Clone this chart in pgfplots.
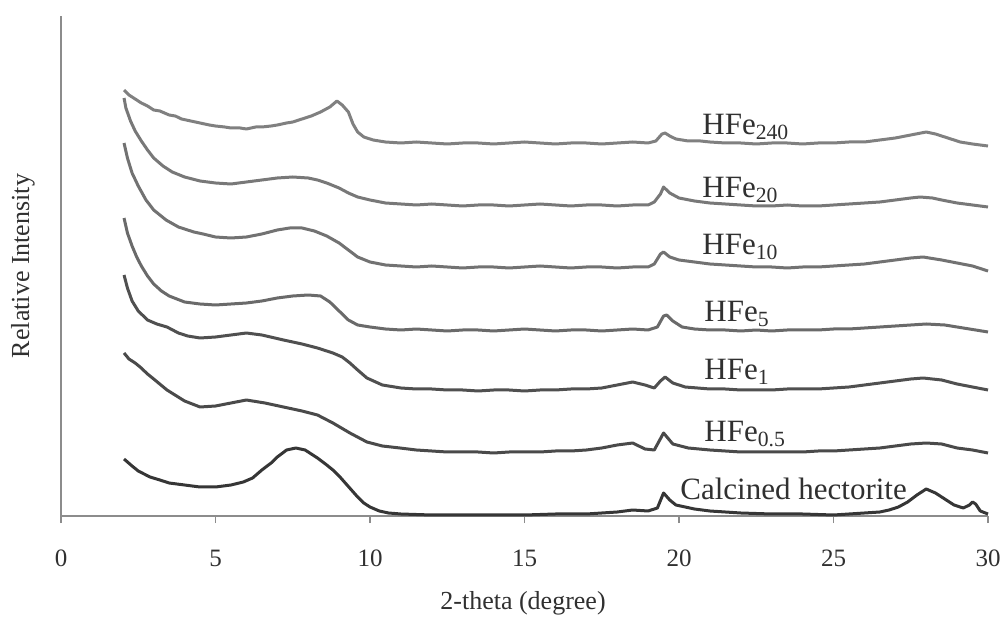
\documentclass[border=0pt]{standalone}
\usepackage{pgfplots}
\pgfplotsset{compat=1.18}
\usepackage{fontspec}
\setmainfont{Liberation Serif}
\definecolor{c1}{HTML}{808080}
\definecolor{c2}{HTML}{787878}
\definecolor{c3}{HTML}{727272}
\definecolor{c4}{HTML}{6A6A6A}
\definecolor{c5}{HTML}{505050}
\definecolor{c6}{HTML}{4A4A4A}
\definecolor{c7}{HTML}{363636}
\definecolor{axc}{HTML}{8C8C8C}
\definecolor{txt}{HTML}{303030}
\begin{document}
\begin{tikzpicture}
\path[use as bounding box] (0,0) rectangle (500.5pt,308pt);
\begin{axis}[
  at={(30.5pt,50pt)}, anchor=south west,
  scale only axis, width=463.5pt, height=250pt,
  xmin=0, xmax=30, ymin=0, ymax=500,
  axis x line=bottom, axis y line=left,
  axis line style={-, draw=axc, line width=0.6pt},
  xtick={0,5,...,30}, ytick=\empty,
  xtick align=outside, major tick length=3.5pt,
  tick style={draw=axc, line width=0.6pt},
  xticklabel style={font=\fontsize{12.5}{14}\selectfont, text=txt, anchor=center, yshift=-17.5pt},
  /pgf/number format/assume math mode=true,
  clip=false,
  every axis plot/.append style={line width=1.5pt, line join=round},
]
% HFe240
\addplot[c1] coordinates {
(2.04,426)(2.2,421)(2.4,417)(2.6,413)(2.8,410)(3.0,406)(3.2,405)(3.5,401)(3.7,400)(3.9,397)(4.2,395)(4.5,393)(4.8,391)(5.0,390)(5.3,389)(5.5,388)(5.8,388)(6.0,387)(6.3,389)(6.5,389)(6.8,390)(7.0,391)(7.3,393)(7.5,394)(7.8,397)(8.1,400)(8.4,404)(8.7,409)(8.93,415)(9.1,411)(9.3,404)(9.45,392)(9.6,384)(9.8,379)(10.1,376)(10.5,374)(11,373)(11.5,374)(12,373)(12.5,372)(13,373)(13.5,373)(14,372)(14.5,373)(15,374)(15.5,373)(16,372)(16.5,373)(17,373)(17.5,372)(18,373)(18.5,374)(19.0,373)(19.25,375)(19.45,382)(19.55,383)(19.7,380)(19.9,377)(20.3,375)(20.7,375)(21,374)(21.5,373)(22,373)(22.5,372)(23,373)(23.5,373)(24,372)(24.5,373)(25,373)(25.5,374)(26,374)(26.5,376)(27,378)(27.5,381)(28,384)(28.3,382)(28.7,378)(29.1,374)(29.5,372)(30,370)};
% HFe20
\addplot[c2] coordinates {
(2.04,418)(2.1,408)(2.25,395)(2.4,385)(2.6,375)(2.8,366)(3.0,358)(3.3,350)(3.6,344)(4.0,339)(4.5,335)(5.0,333)(5.5,332)(6.0,334)(6.5,336)(7.0,338)(7.5,339)(8.0,338)(8.3,336)(8.6,333)(9.0,328)(9.3,323)(9.6,319)(10.0,316)(10.5,313)(11,312)(11.5,311)(12,312)(12.5,311)(13,310)(13.5,311)(14,311)(14.5,310)(15,311)(15.5,312)(16,311)(16.5,310)(17,311)(17.5,311)(18,310)(18.5,311)(19.0,311)(19.2,314)(19.4,322)(19.5,329)(19.7,323)(20,318)(20.5,315)(21,313)(21.5,312)(22,311)(22.5,310)(23,310)(23.5,311)(24,310)(24.5,310)(25,311)(25.5,312)(26,313)(26.5,314)(27,316)(27.5,318)(27.8,319)(28.2,318)(28.5,316)(29,313)(29.5,311)(30,309)};
% HFe10
\addplot[c3] coordinates {
(2.04,373)(2.15,358)(2.3,343)(2.5,330)(2.75,316)(3.0,306)(3.4,296)(3.8,289)(4.3,284)(4.6,282)(5.0,279)(5.5,278)(6.0,279)(6.5,282)(7.0,286)(7.4,288)(7.8,288)(8.2,285)(8.6,280)(9.0,273)(9.3,266)(9.6,259)(10.0,254)(10.5,251)(11,250)(11.5,249)(12,250)(12.5,249)(13,248)(13.5,249)(14,249)(14.5,248)(15,249)(15.5,250)(16,249)(16.5,248)(17,249)(17.5,249)(18,248)(18.5,249)(19.0,249)(19.2,252)(19.4,262)(19.5,264)(19.7,259)(20,256)(20.5,254)(21,252)(21.5,251)(22,250)(22.5,249)(23,249)(23.5,248)(24,249)(24.5,249)(25,250)(25.5,251)(26,252)(26.5,254)(27,256)(27.5,258)(27.9,259)(28.5,256)(29,253)(29.5,250)(30,245)};
% HFe5
\addplot[c4] coordinates {
(2.04,298)(2.15,283)(2.3,270)(2.45,259)(2.6,250)(2.8,240)(3.0,232)(3.25,225)(3.5,220)(4.0,214)(4.5,212)(5.0,211)(5.5,212)(6.0,213)(6.5,215)(7.0,218)(7.5,220)(8.0,221)(8.4,220)(8.7,214)(9.0,205)(9.3,196)(9.6,191)(10.0,189)(10.5,187)(11,186)(11.5,187)(12,186)(12.5,185)(13,186)(13.5,186)(14,185)(14.5,186)(15,187)(15.5,186)(16,185)(16.5,186)(17,186)(17.5,185)(18,186)(18.5,187)(19.0,186)(19.3,189)(19.5,200)(19.6,201)(19.8,195)(20.1,189)(20.5,187)(21,186)(21.5,186)(22,185)(22.5,186)(23,185)(23.5,186)(24,186)(24.5,186)(25,187)(25.5,187)(26,188)(26.5,189)(27,190)(27.5,191)(28,192)(28.6,191)(29.2,188)(29.6,186)(30,184)};
% HFe1
\addplot[c5] coordinates {
(2.04,241)(2.15,228)(2.3,215)(2.5,205)(2.8,196)(3.1,192)(3.43,189)(3.8,183)(4.1,180)(4.5,178)(5.0,179)(5.5,181)(6.0,183)(6.5,181)(7.2,176)(7.8,172)(8.3,168)(8.8,163)(9.1,159)(9.35,153)(9.6,146)(9.9,138)(10.4,131)(11,128)(11.5,127)(12,127)(12.5,126)(13,126)(13.5,125)(14,126)(14.5,126)(15,125)(15.5,126)(16,126)(16.5,127)(17,127)(17.5,128)(18,131)(18.5,134)(18.9,131)(19.2,128)(19.4,135)(19.55,139)(19.8,133)(20.2,129)(20.6,128)(21,127)(21.5,127)(22,126)(22.5,126)(23,126)(23.5,127)(24,127)(24.5,127)(25,128)(25.5,129)(26,131)(26.5,133)(27,135)(27.5,137)(27.9,138)(28.5,136)(29,132)(29.5,129)(30,126)};
% HFe0.5
\addplot[c6] coordinates {
(2.04,163)(2.2,157)(2.4,153)(2.56,149)(2.8,142)(3.0,137)(3.43,126)(4.0,115)(4.5,109)(5.0,110)(5.5,113)(6.0,116)(6.6,113)(7.2,109)(7.8,105)(8.3,101)(8.8,93)(9.35,83)(9.9,74)(10.4,70)(10.97,68)(11.5,66)(12,65)(12.5,64)(13,64)(13.5,64)(14,63)(14.5,64)(15,64)(15.5,64)(16,65)(16.5,65)(17,66)(17.5,68)(18,71)(18.5,73)(18.9,67)(19.2,66)(19.5,83)(19.8,72)(20.3,68)(21,66)(21.5,65)(22,64)(22.5,64)(23,64)(23.5,64)(24,64)(24.5,65)(25,65)(25.5,66)(26,67)(26.5,68)(27,70)(27.5,72)(28,73)(28.5,72)(29,68)(29.5,66)(30,63)};
% Calcined hectorite
\addplot[c7] coordinates {
(2.04,57)(2.3,50)(2.5,45)(2.88,39)(3.2,36)(3.5,33)(4.0,31)(4.5,29)(5.0,29)(5.5,31)(5.9,34)(6.2,38)(6.5,46)(6.8,53)(7.0,59)(7.3,66)(7.6,68)(7.9,66)(8.3,58)(8.6,51)(8.8,46)(9.0,40)(9.2,33)(9.4,26)(9.6,19)(9.8,13)(10.0,9)(10.3,5)(10.6,3)(11,2)(12,1)(13,1)(14,1)(15,1)(16,2)(17,2)(17.5,3)(18,4)(18.5,6)(19.0,5)(19.3,8)(19.5,23)(19.7,16)(19.9,11)(20.5,7)(21,5)(22,3)(23,2)(24,2)(25,1)(25.5,2)(26,3)(26.5,4)(26.8,6)(27.1,9)(27.4,14)(27.7,21)(28.0,27)(28.3,23)(28.6,17)(28.9,11)(29.2,8)(29.4,11)(29.5,14)(29.6,12)(29.75,5)(30,2)};
\end{axis}
\begin{scope}[every node/.style={text=txt, inner sep=0pt}]
\node[anchor=base west, font=\fontsize{15.5}{18}\selectfont] at (351pt,240.5pt) {HFe\textsubscript{240}};
\node[anchor=base west, font=\fontsize{15.5}{18}\selectfont] at (351pt,209pt) {HFe\textsubscript{20}};
\node[anchor=base west, font=\fontsize{15.5}{18}\selectfont] at (351pt,180.5pt) {HFe\textsubscript{10}};
\node[anchor=base west, font=\fontsize{15.5}{18}\selectfont] at (352pt,147pt) {HFe\textsubscript{5}};
\node[anchor=base west, font=\fontsize{15.5}{18}\selectfont] at (352pt,118pt) {HFe\textsubscript{1}};
\node[anchor=base west, font=\fontsize{15.5}{18}\selectfont] at (352pt,87pt) {HFe\textsubscript{0.5}};
\node[anchor=base west, font=\fontsize{15.5}{18}\selectfont] at (340pt,58.5pt) {Calcined hectorite};
\node[font=\fontsize{13}{15}\selectfont] at (261.5pt,6.5pt) {2-theta (degree)};
\node[font=\fontsize{13}{15}\selectfont, rotate=90] at (11.5pt,175pt) {Relative Intensity};
\end{scope}
\end{tikzpicture}
\end{document}
